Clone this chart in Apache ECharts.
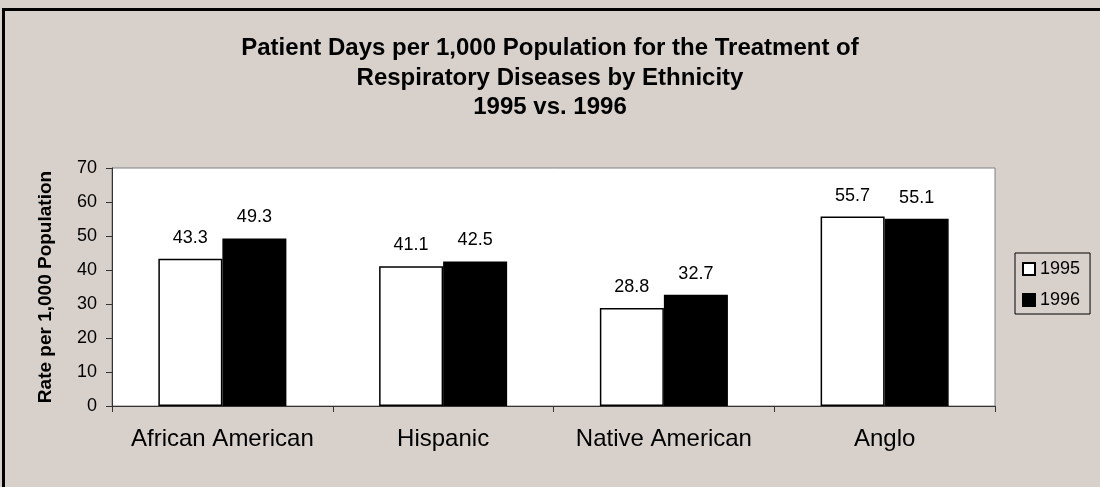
<!DOCTYPE html>
<html>
<head>
<meta charset="utf-8">
<script src="https://cdn.jsdelivr.net/npm/echarts@6/dist/echarts.min.js"></script>
<style>
  html, body { margin: 0; padding: 0; background: #d8d0cb; }
  #chart { width: 1100px; height: 487px; }
</style>
</head>
<body>
<div id="chart"></div>
<script>
const categories = ['African American', 'Hispanic', 'Native American', 'Anglo']
const values1995 = [43.3, 41.1, 28.8, 55.7]
const values1996 = [49.3, 42.5, 32.7, 55.1]
const yTicks = [0, 10, 20, 30, 40, 50, 60, 70]

const font = 'Liberation Sans, Arial, sans-serif'

const labelStyle = {
  show: true,
  position: 'top',
  distance: 12,
  fontFamily: font,
  fontSize: 18,
  color: '#000'
}

const option = {
  backgroundColor: '#d8d0cb',
  animation: false,
  title: {
    text: 'Patient Days per 1,000 Population for the Treatment of\nRespiratory Diseases by Ethnicity\n1995 vs. 1996',
    left: 'center',
    top: 29,
    textStyle: {
      fontFamily: font,
      fontSize: 24,
      fontWeight: 'bold',
      lineHeight: 29.5,
      color: '#000'
    }
  },
  graphic: [
    {
      type: 'rect',
      shape: { x: 3.5, y: 9.5, width: 1200, height: 600 },
      style: { fill: 'none', stroke: '#000', lineWidth: 3 },
      silent: true
    }
  ],
  legend: {
    orient: 'vertical',
    left: 1015,
    top: 253,
    padding: [7, 10, 5, 7],
    itemGap: 13,
    itemWidth: 12,
    itemHeight: 12,
    borderColor: '#000',
    borderWidth: 1,
    icon: 'rect',
    textStyle: { fontFamily: font, fontSize: 18, color: '#000' },
    data: ['1995', '1996']
  },
  grid: {
    left: 112,
    top: 168,
    right: 105,
    bottom: 81,
    show: true,
    backgroundColor: '#fff',
    borderColor: '#808080',
    borderWidth: 1
  },
  xAxis: {
    type: 'category',
    data: categories,
    axisLine: { lineStyle: { color: '#333', width: 1 } },
    axisTick: { show: true, interval: 0, length: 6, lineStyle: { color: '#333' } },
    axisLabel: { interval: 0, fontFamily: font, fontSize: 24, color: '#000', margin: 21 }
  },
  yAxis: {
    type: 'value',
    min: yTicks[0],
    max: yTicks[yTicks.length - 1],
    interval: 10,
    name: 'Rate per 1,000 Population',
    nameLocation: 'middle',
    nameGap: 57,
    nameTextStyle: { fontFamily: font, fontSize: 19, fontWeight: 'bold', color: '#000' },
    axisLine: { show: true, lineStyle: { color: '#333', width: 1 } },
    axisTick: { show: true, length: 6, lineStyle: { color: '#333' } },
    axisLabel: { fontFamily: font, fontSize: 18, color: '#000', margin: 15 },
    splitLine: { show: false }
  },
  series: [
    {
      name: '1995',
      type: 'bar',
      data: values1995,
      barGap: '0%',
      barCategoryGap: '42%',
      itemStyle: { color: '#fff', borderColor: '#000', borderWidth: 1.5 },
      label: labelStyle
    },
    {
      name: '1996',
      type: 'bar',
      data: values1996,
      itemStyle: { color: '#000', borderColor: '#000', borderWidth: 1.5 },
      label: labelStyle
    }
  ]
}

let chart = echarts.init(document.getElementById('chart'))
chart.setOption(option)
</script>
</body>
</html>
